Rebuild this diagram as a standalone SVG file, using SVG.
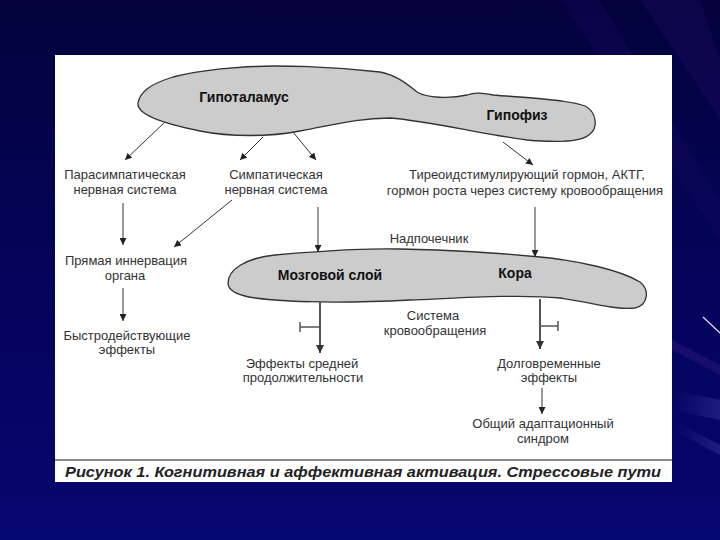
<svg xmlns="http://www.w3.org/2000/svg" width="720" height="540" viewBox="0 0 720 540">
<defs>
<linearGradient id="bg" x1="0" y1="0" x2="0" y2="1">
<stop offset="0" stop-color="#03023c"/>
<stop offset="0.5" stop-color="#04045a"/>
<stop offset="1" stop-color="#060670"/>
</linearGradient>
<linearGradient id="streak" x1="0" y1="0" x2="1" y2="0">
<stop offset="0" stop-color="#6a6ad0" stop-opacity="0"/>
<stop offset="1" stop-color="#7a7ae0" stop-opacity="0.35"/>
</linearGradient>
<marker id="ah" viewBox="0 0 10 10" refX="10" refY="5" markerWidth="7" markerHeight="7" markerUnits="userSpaceOnUse" orient="auto">
<path d="M0,0 L10,5 L0,10 Z" fill="#222"/>
</marker>
<marker id="ahg" viewBox="0 0 10 10" refX="10" refY="5" markerWidth="8" markerHeight="8" markerUnits="userSpaceOnUse" orient="auto">
<path d="M0,0 L10,5 L0,10 Z" fill="#333"/>
</marker>
</defs>
<style>
.t{font-family:"Liberation Sans",Arial,sans-serif;font-size:13px;fill:#333;text-anchor:middle}
.b{font-family:"Liberation Sans",Arial,sans-serif;font-size:14px;font-weight:bold;fill:#111;text-anchor:middle}
.shape{fill:#cccccc;stroke:#333;stroke-width:1.3}
.c{stroke:#333;stroke-width:1;fill:none;marker-end:url(#ah)}
.g{stroke:#555;stroke-width:2;fill:none}
</style>
<rect width="720" height="540" fill="url(#bg)"/>
<g opacity="0.6">
<polygon points="640,0 700,0 720,60 720,120" fill="#2a0a6a" opacity="0.5"/>
<polygon points="560,0 600,0 720,200 720,240" fill="#1a0a66" opacity="0.5"/>
<polygon points="672,390 720,400 720,420 672,410" fill="url(#streak)"/>
<polygon points="672,340 720,365 720,375 672,350" fill="#5a2a8a" opacity="0.4"/>
<polygon points="672,420 720,445 720,455 672,430" fill="url(#streak)"/>
</g>
<line x1="703" y1="317" x2="720" y2="333" stroke="#f0d8f0" stroke-width="1.2"/>
<rect x="55" y="55" width="617" height="427" fill="#ffffff"/>
<line x1="55" y1="460" x2="672" y2="460" stroke="#8a8a8a" stroke-width="2"/>
<text x="65" y="477" textLength="596" lengthAdjust="spacingAndGlyphs" style="font-family:'Liberation Sans',Arial,sans-serif;font-size:14px;font-weight:bold;font-style:italic;fill:#222">Рисунок 1. Когнитивная и аффективная активация. Стрессовые пути</text>
<g id="hypothalamus">
<path class="shape" d="M138,103 C140,92 150,84 173,77 C200,70 240,66 273,66 C310,66 345,68 380,72 C395,75 405,82 417,92 C427,98 450,99 467,95 C475,92 482,93 493,95 C530,98 570,100 585,106 C597,112 598,128 590,134 C582,142 560,143 527,140 C480,134 430,121 390,118 C355,118 330,126 300,131 C270,137 230,137 200,131 C170,125 136,116 138,103 Z"/>
<text class="b" x="244" y="102">Гипоталамус</text>
<text class="b" x="517" y="120">Гипофиз</text>
</g>
<g id="adrenal">
<path class="shape" d="M228,283 C228,270 245,258 275,255 C320,251 360,248 400,249 C450,250 500,253 540,257 C580,261 620,270 640,282 C650,290 648,305 635,308 C615,310 595,303 560,298 C520,294 460,298 410,300 C370,302 330,303 290,301 C250,299 228,295 228,283 Z"/>
<text class="b" x="330" y="280">Мозговой слой</text>
<text class="b" x="515" y="278">Кора</text>
</g>
<g id="labels">
<g id="parasym"><text class="t" x="125" y="179">Парасимпатическая</text><text class="t" x="125" y="194">нервная система</text></g>
<g id="sym"><text class="t" x="276" y="179">Симпатическая</text><text class="t" x="276" y="194">нервная система</text></g>
<g id="hormones"><text class="t" x="527" y="179">Тиреоидстимулирующий гормон, АКТГ,</text><text class="t" x="525" y="195">гормон роста через систему кровообращения</text></g>
<g id="nadpoch"><text class="t" x="429" y="243">Надпочечник</text></g>
<g id="direct"><text class="t" x="126" y="265">Прямая иннервация</text><text class="t" x="125" y="280">органа</text></g>
<g id="fast"><text class="t" x="127" y="340">Быстродействующие</text><text class="t" x="127" y="354">эффекты</text></g>
<g id="blood"><text class="t" x="433" y="320">Система</text><text class="t" x="435" y="335">кровообращения</text></g>
<g id="medium"><text class="t" x="302" y="368">Эффекты средней</text><text class="t" x="303" y="382">продолжительности</text></g>
<g id="longterm"><text class="t" x="549" y="368">Долговременные</text><text class="t" x="549" y="382">эффекты</text></g>
<g id="gas"><text class="t" x="543" y="428">Общий адаптационный</text><text class="t" x="543" y="443">синдром</text></g>
</g>
<g id="connectors">
<line class="c" x1="165" y1="122" x2="125" y2="160"/>
<line class="c" x1="263" y1="137" x2="240" y2="160"/>
<line class="c" x1="293" y1="132" x2="316" y2="160"/>
<line class="c" x1="503" y1="142" x2="533" y2="165"/>
<line class="c" x1="123" y1="203" x2="123" y2="245"/>
<line class="c" x1="232" y1="200" x2="174" y2="247"/>
<line class="c" x1="318" y1="207" x2="318" y2="252"/>
<line class="c" x1="535" y1="207" x2="535" y2="257"/>
<line class="c" x1="123" y1="288" x2="123" y2="321"/>
<line class="g" x1="320" y1="302" x2="320" y2="353" style="marker-end:url(#ahg)"/>
<line x1="300" y1="327" x2="320" y2="327" stroke="#555" stroke-width="1.5"/>
<line x1="300" y1="322" x2="300" y2="332" stroke="#555" stroke-width="1.5"/>
<line class="g" x1="540" y1="299" x2="540" y2="349" style="marker-end:url(#ahg)"/>
<line x1="540" y1="326" x2="558" y2="326" stroke="#555" stroke-width="1.5"/>
<line x1="558" y1="321" x2="558" y2="331" stroke="#555" stroke-width="1.5"/>
<line class="c" x1="542" y1="388" x2="542" y2="414"/>
</g>
</svg>
